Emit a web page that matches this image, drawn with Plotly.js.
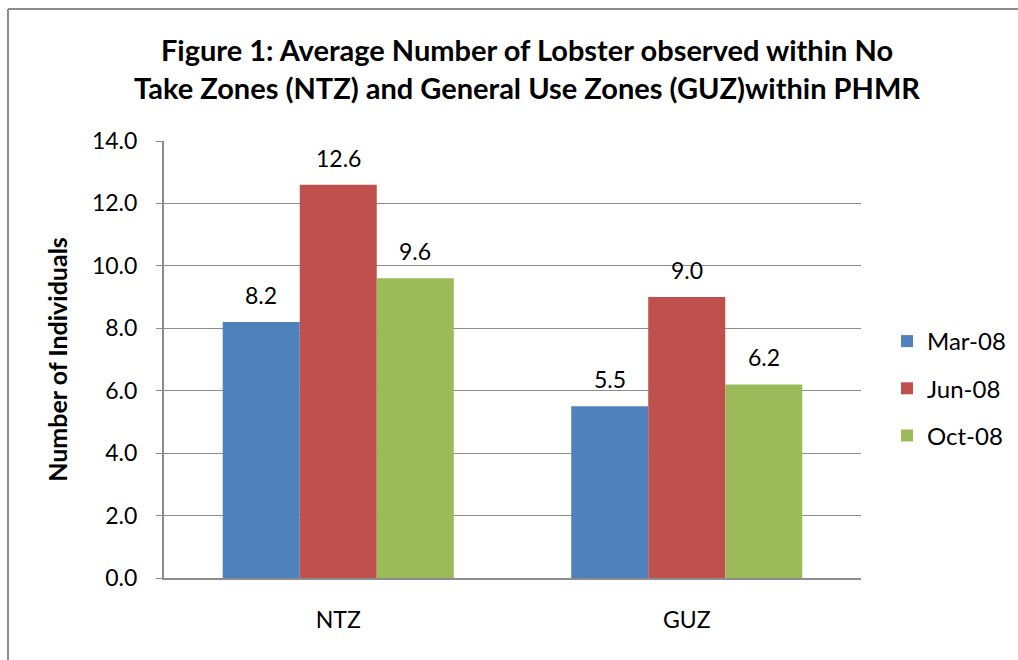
<!DOCTYPE html>
<html>
<head>
<meta charset="utf-8">
<script src="https://cdn.plot.ly/plotly-3.0.1.min.js"></script>
<style>html,body{margin:0;padding:0;background:#fff;}#chart{width:1018px;height:660px;}</style>
</head>
<body>
<div id="chart"></div>
<script>
const zones = ["NTZ", "GUZ"];
const seriesNames = ["Mar-08", "Jun-08", "Oct-08"];
const mar08 = [8.2, 5.5];
const jun08 = [12.6, 9.0];
const oct08 = [9.6, 6.2];
const yTicks = [0, 2, 4, 6, 8, 10, 12, 14];
const colors = ["#4f81bd", "#c0504d", "#9bbb59"];

const FONT = "Lato, 'Open Sans', sans-serif";
const values = [mar08, jun08, oct08];
const traces = values.map((v, i) => ({
  type: "bar",
  name: seriesNames[i],
  x: zones,
  y: v,
  marker: {color: colors[i]},
  legendgroup: "g" + i,
  hoverinfo: "x+y+name"
}));

const L = 164, R = 861, T = 141, B = 578;
const px = x => (x - L) / (R - L);
const py = y => (B - y) / (B - T);
const barPx = 77;

const annotations = [];
values.forEach((v, i) => {
  v.forEach((d, j) => {
    annotations.push({
      x: zones[j], y: d, xref: "x", yref: "y",
      text: d.toFixed(1), showarrow: false,
      xanchor: "center", yanchor: "bottom",
      xshift: (i - 1) * barPx, yshift: 11,
      font: {family: FONT, size: 23, color: "#000"}
    });
  });
});

const layout = {
  width: 1018,
  height: 660,
  margin: {l: L, r: 1018 - R, t: T, b: 660 - B, autoexpand: false},
  paper_bgcolor: "#fff",
  plot_bgcolor: "#fff",
  font: {family: FONT, size: 23, color: "#000"},
  title: {
    text: "Figure 1: Average Number of Lobster observed within No<br>Take Zones (NTZ) and General Use Zones (GUZ)within PHMR",
    font: {family: FONT, size: 29, color: "#000", weight: "bold"},
    x: 527 / 1018, xanchor: "center", xref: "container",
    y: 1 - 61 / 660, yanchor: "middle", yref: "container"
  },
  barmode: "group",
  bargap: 0.337,
  bargroupgap: 0,
  xaxis: {
    type: "category",
    showline: true, linecolor: "#8c8c8c", linewidth: 2,
    ticks: "", showgrid: false,
    tickfont: {family: FONT, size: 23},
    ticklabelstandoff: 20
  },
  yaxis: {
    range: [0, 14],
    tickvals: yTicks,
    ticktext: yTicks.map(t => t.toFixed(1)),
    showline: true, linecolor: "#8c8c8c", linewidth: 2,
    ticks: "outside", ticklen: 6, tickcolor: "#8c8c8c", tickwidth: 1,
    ticklabelstandoff: 14,
    showgrid: true, gridcolor: "#8c8c8c", gridwidth: 1,
    zeroline: false,
    tickfont: {family: FONT, size: 23},
    title: {text: "Number of Individuals", font: {family: FONT, size: 25, weight: "bold"}, standoff: 17}
  },
  annotations: annotations,
  showlegend: true,
  legend: {
    xref: "container", yref: "container",
    x: 887 / 1018, xanchor: "left",
    y: 1 - 319 / 660, yanchor: "top",
    font: {family: FONT, size: 24},
    traceorder: "grouped",
    tracegroupgap: 13,
    itemwidth: 30,
    bgcolor: "rgba(0,0,0,0)"
  },
  shapes: [
    {type: "line", xref: "paper", yref: "paper", x0: px(8), x1: px(1030), y0: py(9), y1: py(9), line: {color: "#8c8c8c", width: 2}},
    {type: "line", xref: "paper", yref: "paper", x0: px(8), x1: px(8), y0: py(9), y1: py(680), line: {color: "#8c8c8c", width: 2}}
  ]
};

Plotly.newPlot("chart", traces, layout, {displayModeBar: false, staticPlot: true});
</script>
</body>
</html>
